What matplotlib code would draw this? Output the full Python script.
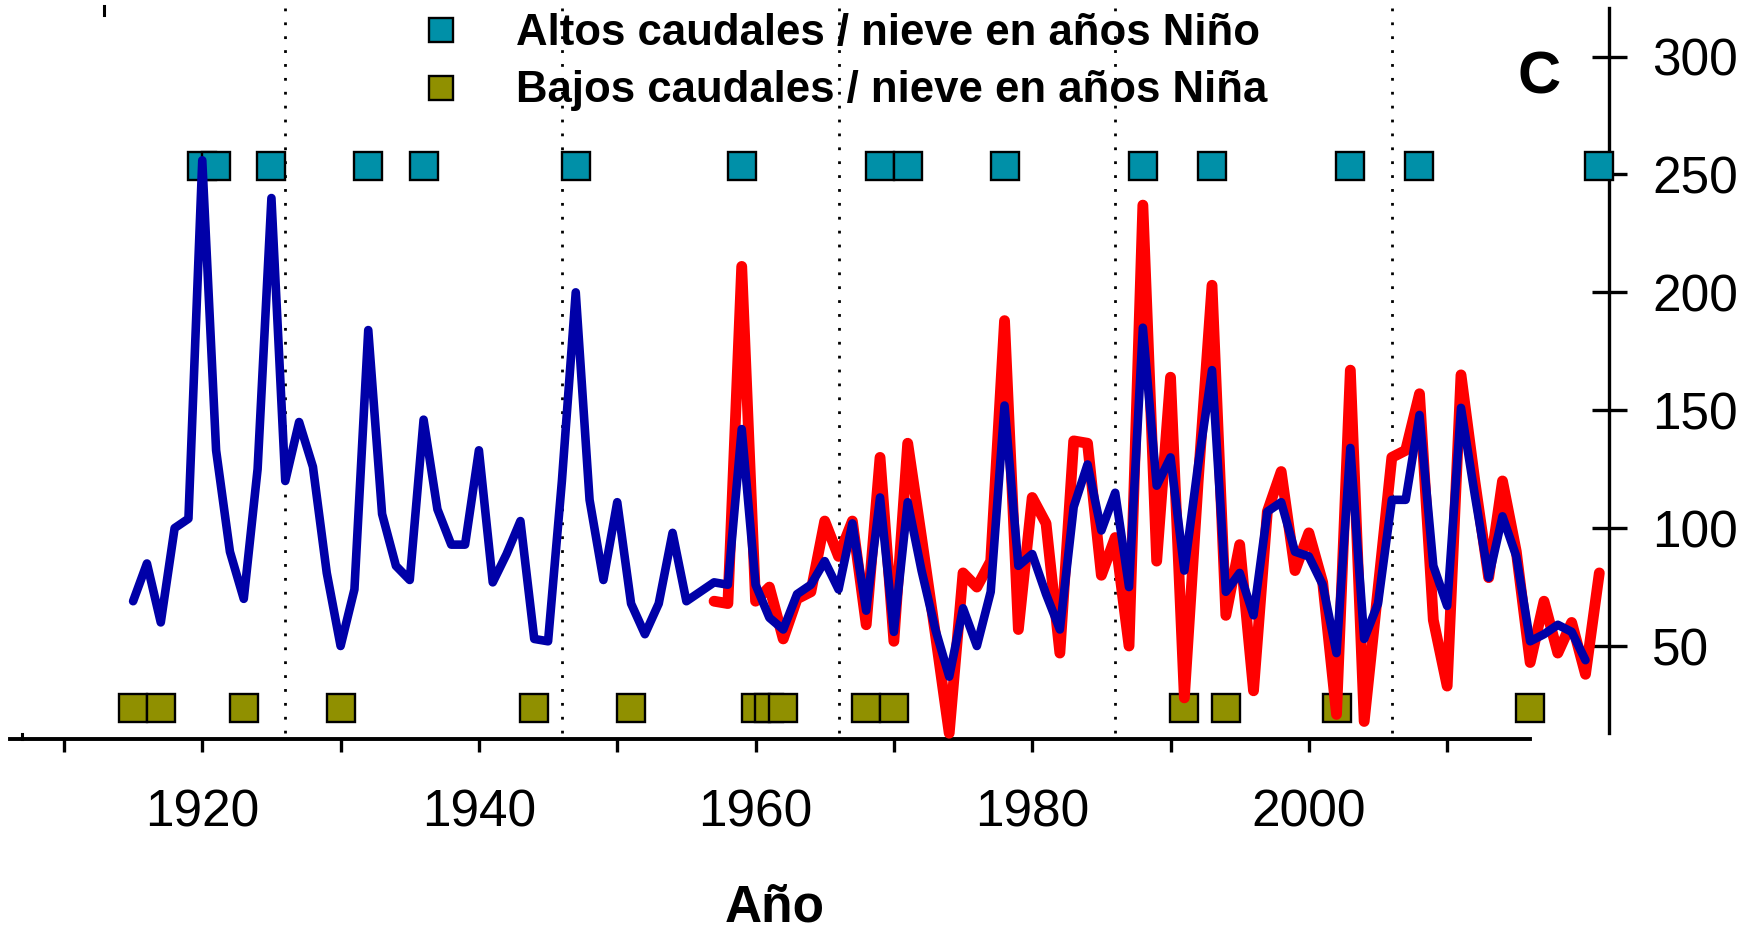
import matplotlib
matplotlib.use('Agg')
import matplotlib.pyplot as plt
from matplotlib.lines import Line2D

plt.rcParams['font.family'] = ['Liberation Sans', 'DejaVu Sans']

# ---------------- data ----------------
years_blue = list(range(1915, 2021))
blue = [69, 85, 60, 100, 104, 256, 133, 90, 70, 125,
        240, 120, 145, 126, 81, 50, 74, 184, 106, 84,
        78, 146, 108, 93, 93, 133, 77, 89, 103, 53,
        52, 120, 200, 112, 78, 111, 68, 55, 68, 98,
        69, 73, 77, 76, 142, 76, 62, 57, 72, 76,
        86, 74, 102, 65, 113, 56, 111, 82, 57, 37,
        66, 50, 73, 152, 84, 89, 72, 57, 109, 127,
        99, 115, 75, 185, 118, 130, 82, 127, 167, 73,
        81, 63, 107, 111, 90, 88, 76, 47, 134, 53,
        68, 112, 112, 148, 84, 67, 151, 114, 79, 105,
        88, 52, 55, 59, 56, 44]

years_red = list(range(1957, 2022))
red = [69, 68, 211, 69, 75, 53, 70, 73, 103, 88,
       103, 59, 130, 52, 136, 96, 55, 13, 81, 75,
       86, 188, 57, 113, 102, 47, 137, 136, 80, 96,
       50, 237, 86, 164, 28, 120, 203, 63, 93, 31,
       107, 124, 82, 98, 77, 21, 167, 18, 74, 130,
       133, 157, 61, 33, 165, 120, 79, 120, 90, 43,
       69, 47, 60, 38, 81]

nino_years = [1920, 1921, 1925, 1932, 1936, 1947, 1959, 1969, 1971,
              1978, 1988, 1993, 2003, 2008, 2021]
nina_years = [1915, 1917, 1923, 1930, 1944, 1951, 1960, 1961, 1962,
              1968, 1970, 1991, 1994, 2002, 2016]
shift_years = [1926, 1946, 1966, 1986, 2006]

xtick_major = [1920, 1940, 1960, 1980, 2000]
xtick_minor = [1910, 1930, 1950, 1970, 1990, 2010]
yticks = [50, 100, 150, 200, 250, 300]

legend_labels = ['Altos caudales / nieve en años Niño',
                 'Bajos caudales / nieve en años Niña']
panel_label = 'C'
xlabel = 'Año'

# ---------------- style ----------------
W, H = 1758, 933
C_TEAL = '#0090A8'
C_OLIVE = '#909000'
C_BLUE = '#0000A8'
C_RED = '#FF0000'
NINO_LEVEL = 253.6
NINA_LEVEL = 23.7


def fx(px):
    return px / W


def fy(py):
    return 1 - py / H


fig = plt.figure(figsize=(W / 100, H / 100), dpi=100)
ax = fig.add_axes([fx(10), fy(739), (1609 - 10) / W, (739 - 8) / H])
ax.set_xlim(1906.1, 2021.7)
ax.set_ylim(10.56, 320.6)

# regime-shift dotted lines
ax.vlines(shift_years, 13, 320.6, colors='black', linewidth=2.0,
          linestyles=[(0, (1, 4))], zorder=2, clip_on=False)

# event squares
ax.plot(nino_years, [NINO_LEVEL] * len(nino_years), ls='none', marker='s',
        ms=19.5, mfc=C_TEAL, mec='black', mew=1.7, zorder=3, clip_on=False)
ax.plot(nina_years, [NINA_LEVEL] * len(nina_years), ls='none', marker='s',
        ms=19.5, mfc=C_OLIVE, mec='black', mew=1.7, zorder=3, clip_on=False)

# series
ax.plot(years_red, red, color=C_RED, lw=7.8, solid_joinstyle='round',
        solid_capstyle='round', zorder=4)
ax.plot(years_blue, blue, color=C_BLUE, lw=6.2, solid_joinstyle='round',
        solid_capstyle='round', zorder=5)

# spines
ax.spines['top'].set_visible(False)
ax.spines['left'].set_visible(False)
ax.spines['bottom'].set_linewidth(2.8)
ax.spines['right'].set_linewidth(2.4)
ax.spines['bottom'].set_bounds(1906.1, 2016)
ax.spines['right'].set_bounds(13, 320.6)

# ticks
ax.set_xticks(xtick_major)
ax.set_xticks(xtick_minor, minor=True)
ax.tick_params(axis='x', which='both', direction='out', length=9.4,
               width=2.4, labelsize=37, pad=26)
ax.yaxis.tick_right()
ax.set_yticks(yticks)
ax.tick_params(axis='y', which='major', direction='inout', length=25.2,
               width=2.4, labelsize=37, pad=18.5)
ax.set_facecolor('none')

# legend (manual)
leg_y = [30.3, 87.5]
leg_base = [44.8, 102.0]
for lab, col, yy, yb in zip(legend_labels, [C_TEAL, C_OLIVE], leg_y, leg_base):
    ax.add_line(Line2D([fx(440.6)], [fy(yy)], transform=fig.transFigure,
                       ls='none', marker='s', ms=17, mfc=col, mec='black',
                       mew=1.7, clip_on=False, zorder=1))
    ax.text(fx(516), fy(yb), lab, transform=fig.transFigure, fontsize=31.5,
            fontweight='bold', ha='left', va='baseline', zorder=1,
            clip_on=False)

# panel label and axis title
fig.text(fx(1539), fy(93), panel_label, fontsize=43, fontweight='bold',
         ha='center', va='baseline')
fig.text(fx(775), fy(921), xlabel, fontsize=37, fontweight='bold',
         ha='center', va='baseline')

# small stray tick marks of the original frame
fig.add_artist(Line2D([fx(104), fx(104)], [fy(5.6), fy(14.6)], color='black',
                      lw=2.2))
fig.add_artist(Line2D([fx(21.7), fx(21.7)], [fy(734), fy(739)], color='black',
                      lw=2.2))

fig.savefig('out.png', dpi=100)
